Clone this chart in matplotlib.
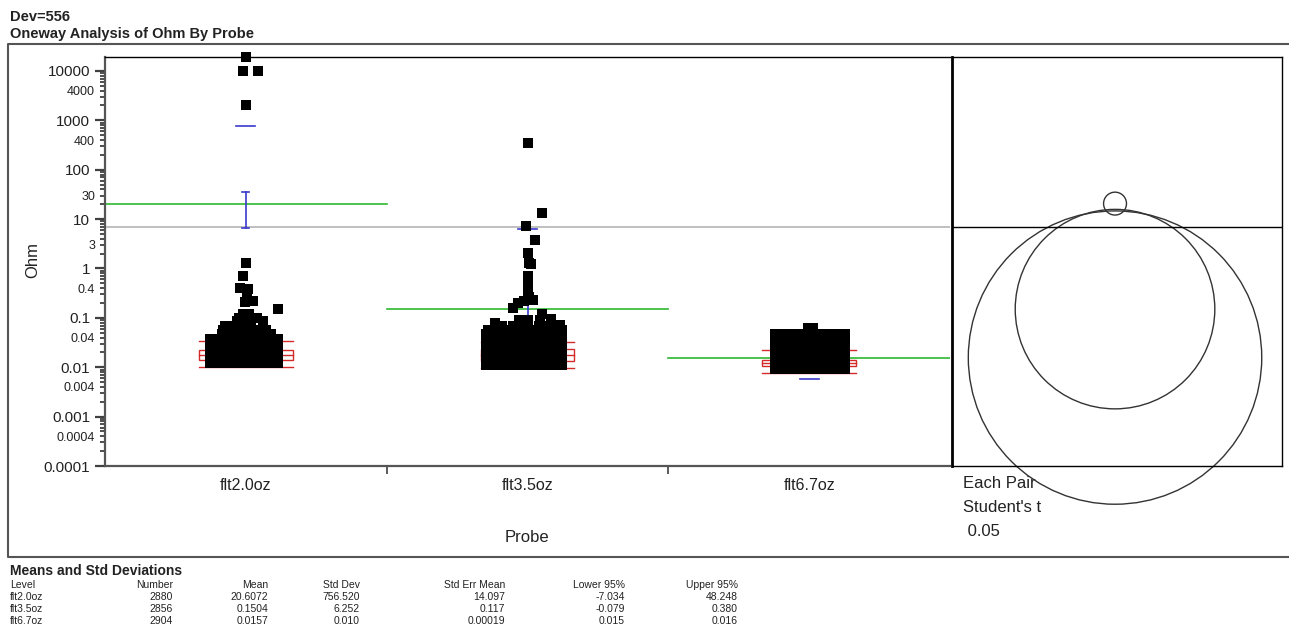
import numpy as np
import matplotlib.pyplot as plt
from matplotlib.patches import Circle, Rectangle
from matplotlib.ticker import FixedLocator, FuncFormatter, NullFormatter

plt.rcParams['font.family'] = ['Liberation Sans', 'DejaVu Sans']

# ---------------------------------------------------
# Datos (tabla "Means and Std Deviations")
# ---------------------------------------------------
levels = ['flt2.0oz', 'flt3.5oz', 'flt6.7oz']
n_obs = [2880, 2856, 2904]
means = [20.6072, 0.1504, 0.0157]
std_devs = [756.520, 6.252, 0.010]
std_errs = [14.097, 0.117, 0.00019]
lower95 = [-7.034, -0.079, 0.015]
upper95 = [48.248, 0.380, 0.016]

quantiles = [
    [0.0100, 0.0138, 0.0175, 0.0220, 0.0335],
    [0.0095, 0.0135, 0.0180, 0.0230, 0.0330],
    [0.0076, 0.0106, 0.0120, 0.0138, 0.0220],
]

# radios de los circulos de comparacion (en decadas log10)
circle_radius = [0.232, 2.02, 2.97]

# puntos: filas del cumulo denso (valor, desplazamientos x) + puntos sueltos
g1_row_vals = [0.012, 0.015, 0.019, 0.024, 0.030, 0.038, 0.048, 0.058, 0.070, 0.085, 0.100, 0.120]
g1_row_offs = [
    [-0.128, -0.096, -0.064, -0.032, 0.0, 0.032, 0.064, 0.096, 0.114],
    [-0.128, -0.096, -0.064, -0.032, 0.0, 0.032, 0.064, 0.096, 0.114],
    [-0.128, -0.096, -0.064, -0.032, 0.0, 0.032, 0.064, 0.096, 0.114],
    [-0.128, -0.096, -0.064, -0.032, 0.0, 0.032, 0.064, 0.096, 0.114],
    [-0.128, -0.096, -0.064, -0.032, 0.0, 0.032, 0.064, 0.096, 0.114],
    [-0.128, -0.096, -0.064, -0.032, 0.0, 0.032, 0.064, 0.096, 0.114],
    [-0.085, -0.064, -0.032, 0.0, 0.032, 0.064, 0.090],
    [-0.080, -0.050, -0.020, 0.010, 0.040, 0.070],
    [-0.075, -0.050, -0.025, 0.0, 0.020],
    [-0.030, -0.010, 0.010],
    [-0.025, 0.0, 0.010],
    [-0.010, 0.010],
]
g1_loose_x = [0.040, 0.060, 0.114, 0.025, -0.004, 0.004, -0.020, 0.007, -0.010, 0.0, 0.0, -0.010, 0.043, 0.0]
g1_loose_y = [0.100, 0.088, 0.150, 0.220, 0.210, 0.310, 0.400, 0.380, 0.690, 1.32, 2055, 10000, 10000, 19000]

g2_row_vals = [0.011, 0.014, 0.018, 0.023, 0.029, 0.037, 0.047, 0.058, 0.070, 0.090]
g2_row_offs = [
    [-0.146, -0.114, -0.082, -0.050, -0.018, 0.014, 0.046, 0.078, 0.110, 0.121],
    [-0.146, -0.114, -0.082, -0.050, -0.018, 0.014, 0.046, 0.078, 0.110, 0.121],
    [-0.146, -0.114, -0.082, -0.050, -0.018, 0.014, 0.046, 0.078, 0.110, 0.121],
    [-0.146, -0.114, -0.082, -0.050, -0.018, 0.014, 0.046, 0.078, 0.110, 0.121],
    [-0.146, -0.114, -0.082, -0.050, -0.018, 0.014, 0.046, 0.078, 0.110, 0.121],
    [-0.146, -0.114, -0.082, -0.050, -0.018, 0.014, 0.046, 0.078, 0.110, 0.121],
    [-0.146, -0.114, -0.082, -0.050, -0.018, 0.014, 0.046, 0.078, 0.110, 0.121],
    [-0.140, -0.114, -0.082, -0.050, -0.018, 0.014, 0.046, 0.078, 0.110, 0.121],
    [-0.090, -0.050, 0.0, 0.040, 0.080],
    [-0.030, 0.0, 0.045],
]
g2_loose_x = [-0.114, 0.117, 0.082, 0.053, -0.053, -0.032, -0.014, 0.018, 0.004, 0.0, 0.0, 0.0, 0.0,
              0.014, 0.004, 0.0, 0.028, -0.004, 0.050, 0.0]
g2_loose_y = [0.077, 0.073, 0.097, 0.120, 0.160, 0.200, 0.220, 0.230, 0.260, 0.330, 0.420, 0.550, 0.720,
              1.25, 1.30, 2.1, 3.7, 7.4, 13.5, 350]

g3_row_vals = [0.0092, 0.0115, 0.0145, 0.0185, 0.0235, 0.030, 0.038, 0.047, 0.062]
g3_row_offs = [
    [-0.120, -0.090, -0.060, -0.030, 0.0, 0.030, 0.060, 0.090, 0.120, 0.128],
    [-0.120, -0.090, -0.060, -0.030, 0.0, 0.030, 0.060, 0.090, 0.120, 0.128],
    [-0.120, -0.090, -0.060, -0.030, 0.0, 0.030, 0.060, 0.090, 0.120, 0.128],
    [-0.120, -0.090, -0.060, -0.030, 0.0, 0.030, 0.060, 0.090, 0.120, 0.128],
    [-0.120, -0.090, -0.060, -0.030, 0.0, 0.030, 0.060, 0.090, 0.120, 0.128],
    [-0.120, -0.090, -0.060, -0.030, 0.0, 0.030, 0.060, 0.090, 0.120, 0.128],
    [-0.120, -0.090, -0.060, -0.030, 0.0, 0.030, 0.060, 0.090, 0.120, 0.128],
    [-0.120, -0.090, -0.060, -0.030, 0.0, 0.030, 0.060, 0.090, 0.120, 0.128],
    [-0.005, 0.015],
]
g3_loose_x = []
g3_loose_y = []

group_rows = [(g1_row_vals, g1_row_offs), (g2_row_vals, g2_row_offs), (g3_row_vals, g3_row_offs)]
group_loose = [(g1_loose_x, g1_loose_y), (g2_loose_x, g2_loose_y), (g3_loose_x, g3_loose_y)]

y_major = [1e-4, 1e-3, 1e-2, 1e-1, 1, 10, 100, 1000, 10000]
y_major_labels = ['0.0001', '0.001', '0.01', '0.1', '1', '10', '100', '1000', '10000']
y_minor_labels = {4000: '4000', 400: '400', 30: '30', 3: '3', 0.4: '0.4',
                  0.04: '0.04', 0.004: '0.004', 0.0004: '0.0004'}

W, H = 1289, 644
TXT = '#222222'

# ---------------------------------------------------
# Figura y marco exterior
# ---------------------------------------------------
fig = plt.figure(figsize=(W / 100, H / 100), dpi=100)
bg = fig.add_axes([0, 0, 1, 1])
bg.set_xlim(0, W)
bg.set_ylim(H, 0)
bg.axis('off')
bg.plot([1289, 8, 8, 1289], [44, 44, 557, 557], color='#555555', lw=1.5)

bg.text(10, 21, 'Dev=556', fontsize=10.5, fontweight='bold', color=TXT)
bg.text(10, 38, 'Oneway Analysis of Ohm By Probe', fontsize=10.5, fontweight='bold', color=TXT)

# ---------------------------------------------------
# Grafico principal
# ---------------------------------------------------
left, right_main, top, bottom = 105, 950, 57, 466
ax = fig.add_axes([left / W, 1 - bottom / H, (right_main - left) / W, (bottom - top) / H])
ax.set_yscale('log')
ax.set_ylim(1e-4, 10 ** 4.283)
ax.set_xlim(0, 3)

for i in range(3):
    xc = i + 0.5
    vals, offs = group_rows[i]
    xs, ys = [], []
    for v, row in zip(vals, offs):
        xs += [xc + o for o in row]
        ys += [v] * len(row)
    lx, ly = group_loose[i]
    xs += [xc + o for o in lx]
    ys += list(ly)
    ax.plot(xs, ys, 's', ms=6.6, mew=0, color='black', clip_on=False, zorder=5)

    # linea de media del grupo
    ax.plot([i, i + 1], [means[i], means[i]], color='#2fb82f', lw=1.2, zorder=1.5)

    # cuantiles (rojo)
    q10, q25, q50, q75, q90 = quantiles[i]
    hw = 0.166
    ax.plot([xc - hw, xc + hw], [q10, q10], color='#d42a2a', lw=1, zorder=2)
    ax.plot([xc - hw, xc + hw], [q90, q90], color='#d42a2a', lw=1, zorder=2)
    ax.plot([xc - hw, xc + hw], [q50, q50], color='#d42a2a', lw=1, zorder=2)
    ax.add_patch(Rectangle((xc - hw, q25), 2 * hw, q75 - q25, fill=False,
                           edgecolor='#d42a2a', lw=1, zorder=2))

    # error estandar (azul)
    lo, hi = means[i] - std_errs[i], means[i] + std_errs[i]
    ax.plot([xc, xc], [max(lo, 1e-5), hi], color='#3a3acc', lw=1.2, zorder=3)
    for yv in (lo, hi):
        if yv > 0:
            ax.plot([xc - 0.013, xc + 0.013], [yv, yv], color='#3a3acc', lw=1.2, zorder=3)
    # desviacion estandar (azul)
    for yv in (means[i] - std_devs[i], means[i] + std_devs[i]):
        if yv > 0:
            ax.plot([xc - 0.034, xc + 0.034], [yv, yv], color='#3a3acc', lw=1.2, zorder=3)

grand_mean = sum(n * m for n, m in zip(n_obs, means)) / sum(n_obs)
ax.axhline(grand_mean, color='#b4b4b4', lw=1.2, zorder=1)

# ejes
ax.yaxis.set_major_locator(FixedLocator(y_major))
ax.set_yticklabels(y_major_labels)
minor_vals = [m * 10.0 ** e for e in range(-4, 4) for m in range(2, 10)]
ax.yaxis.set_minor_locator(FixedLocator(minor_vals))


def minor_fmt(v, pos):
    for k, s in y_minor_labels.items():
        if abs(v - k) / k < 1e-6:
            return s
    return ''


ax.yaxis.set_minor_formatter(FuncFormatter(minor_fmt))
ax.tick_params(axis='y', which='major', length=7.2, width=1.6, pad=3.5, labelsize=11,
               color='#404040', labelcolor=TXT)
ax.tick_params(axis='y', which='minor', length=3.6, width=1.3, pad=3.5, labelsize=9,
               color='#404040', labelcolor=TXT)

ax.set_xticks([1, 2])
ax.set_xticklabels(['', ''])
ax.set_xticks([0.5, 1.5, 2.5], minor=True)
ax.set_xticklabels(levels, minor=True)
ax.tick_params(axis='x', which='major', length=5.8, width=1.2, color='#404040', direction='out')
ax.tick_params(axis='x', which='minor', length=0, pad=9, labelsize=11.5, labelcolor=TXT)

for s in ('left', 'bottom'):
    ax.spines[s].set_color('#555555')
    ax.spines[s].set_linewidth(1.6)
ax.spines['top'].set_color('black')
ax.spines['top'].set_linewidth(1)
ax.spines['right'].set_visible(False)

bg.text(33, 260, 'Ohm', fontsize=12, rotation=90, ha='center', va='center', color=TXT)
bg.text(527, 537, 'Probe', fontsize=12, ha='center', va='center', color=TXT)

# ---------------------------------------------------
# Circulos de comparacion
# ---------------------------------------------------
ax2 = fig.add_axes([952 / W, 1 - bottom / H, 330 / W, (bottom - top) / H])
ax2.set_ylim(-4, 4.283)
ax2.set_xlim(-3.30, 3.38)
ax2.set_xticks([])
ax2.set_yticks([])
for s in ax2.spines.values():
    s.set_color('black')
    s.set_linewidth(1)
ax2.spines['left'].set_linewidth(2)
ax2.axhline(np.log10(grand_mean), color='black', lw=1)
for m, r in zip(means, circle_radius):
    ax2.add_patch(Circle((0, np.log10(m)), r, fill=False, edgecolor='#333333', lw=1, clip_on=False))

bg.text(963, 483, 'Each Pair', fontsize=12, va='center', color=TXT)
bg.text(963, 507, "Student's t", fontsize=12, va='center', color=TXT)
bg.text(963, 531, ' 0.05', fontsize=12, va='center', color=TXT)

# ---------------------------------------------------
# Tabla de medias
# ---------------------------------------------------
bg.text(10, 575, 'Means and Std Deviations', fontsize=10, fontweight='bold', color=TXT)


def fmt3(v):
    return '%.5f' % v if abs(v) < 0.001 else '%.3f' % v


headers = ['Number', 'Mean', 'Std Dev', 'Std Err Mean', 'Lower 95%', 'Upper 95%']
col_right = [173, 268, 360, 505, 625, 738]
bg.text(10, 588, 'Level', fontsize=7.5, color=TXT)
for h, xr in zip(headers, col_right):
    bg.text(xr, 588, h, fontsize=7.5, ha='right', color=TXT)
for j in range(3):
    yb = 600 + 12 * j
    cells = [str(n_obs[j]), '%.4f' % means[j], '%.3f' % std_devs[j], fmt3(std_errs[j]),
             '%.3f' % lower95[j], '%.3f' % upper95[j]]
    bg.text(10, yb, levels[j], fontsize=7.5, color=TXT)
    for c, xr in zip(cells, col_right):
        bg.text(xr, yb, c, fontsize=7.5, ha='right', color=TXT)

plt.savefig('out.png', dpi=100, facecolor='white')
plt.close()
